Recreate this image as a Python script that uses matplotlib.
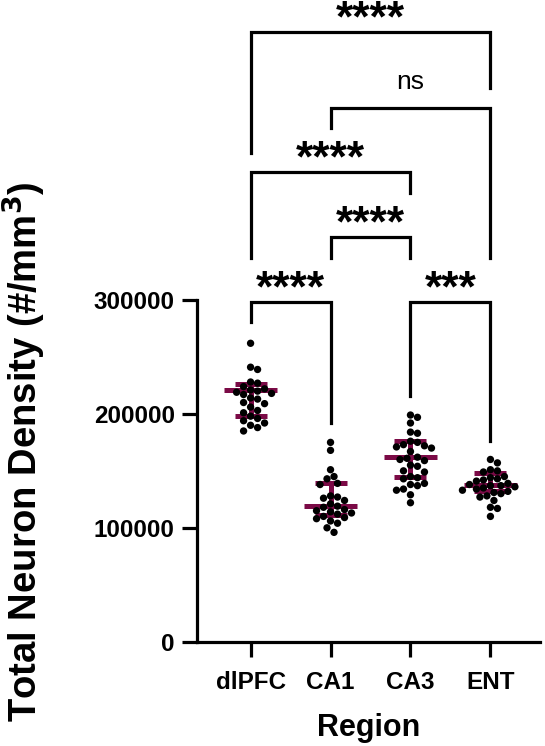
import matplotlib
matplotlib.use("Agg")
import matplotlib.pyplot as plt
import numpy as np

plt.rcParams['font.family'] = ['Liberation Sans', 'DejaVu Sans']

# values (neurons / mm^3)
regions = ['dlPFC', 'CA1', 'CA3', 'ENT']
dlpfc = [262000, 241000, 239000, 228000, 227000, 224000, 222000, 221000, 220000,
         219000, 218000, 217000, 214000, 213000, 210000, 209000, 206000, 203000,
         201000, 198000, 196000, 194000, 192000, 190000, 188000, 185000]
ca1 = [175000, 168000, 151000, 145000, 143000, 139000, 138000, 128000, 127000,
       126000, 124000, 121000, 119000, 118000, 116000, 115000, 114000, 113000,
       112000, 110000, 109000, 108000, 106000, 104000, 100000, 96000]
ca3 = [199000, 197000, 192000, 184000, 183000, 176000, 175000, 173000, 172000,
       171000, 170000, 167000, 162000, 161000, 160000, 159000, 155000, 154000,
       150000, 149000, 145000, 144000, 143000, 139000, 138000, 137000, 134000,
       133000, 129000, 122000]
ent = [160000, 157000, 151000, 150000, 149000, 145000, 144000, 143000, 142000,
       141000, 139000, 138000, 137000, 137000, 136000, 135000, 134000, 133000,
       132000, 131000, 130000, 128000, 127000, 124000, 118000, 117000, 110000]
groups = [dlpfc, ca1, ca3, ent]

# median and interquartile bars as drawn
medians = [221000, 119000, 162000, 138000]
q1 = [198000, 111000, 145000, 132000]
q3 = [226000, 139000, 176000, 148000]

# significance brackets: (group a, group b, label)
comparisons = [(0, 1, '****'), (2, 3, '***'), (1, 2, '****'),
               (0, 2, '****'), (1, 3, 'ns'), (0, 3, '****')]
bracket_top = [298000, 298000, 355000, 412000, 469000, 535000]
leg_a = [281000, 216000, 337000, 337000, 451000, 429000]
leg_b = [192000, 176000, 337000, 394000, 337000, 486000]

W, H = 545, 746
fig = plt.figure(figsize=(W / 100, H / 100), dpi=100)
ax = fig.add_axes([197 / W, (H - 641.7) / H, 343 / W, 341.7 / H])
ax.set_xlim(-0.67, 3.62)
ax.set_ylim(0, 300000)

px_x = 80.0            # pixels per category
px_y = 341.7 / 300000  # pixels per unit
dot = 7.0


def swarm(vals):
    order = np.argsort(vals)[::-1]
    placed = []
    offs = np.zeros(len(vals))
    cands = [0.0]
    for k in range(1, 16):
        cands += [k * dot / 2, -k * dot / 2]
    for i in order:
        y = vals[i] * px_y
        for c in cands:
            if all((c - px) ** 2 + (y - py) ** 2 >= dot ** 2 for px, py in placed):
                break
        placed.append((c, y))
        offs[i] = c / px_x
    return offs


bar_col = '#7b0a46'
for i, vals in enumerate(groups):
    ax.plot([i, i], [q1[i], q3[i]], color=bar_col, lw=3.6, solid_capstyle='butt', zorder=2)
    ax.plot([i - 0.33, i + 0.33], [medians[i]] * 2, color=bar_col, lw=3.6, solid_capstyle='butt', zorder=2)
    ax.plot([i - 0.2, i + 0.2], [q1[i]] * 2, color=bar_col, lw=3.6, solid_capstyle='butt', zorder=2)
    ax.plot([i - 0.2, i + 0.2], [q3[i]] * 2, color=bar_col, lw=3.6, solid_capstyle='butt', zorder=2)
    offs = swarm(np.array(vals, dtype=float))
    ax.scatter(i + offs, vals, s=28, color='black', edgecolors='none', zorder=3, clip_on=False)

# brackets
for (a, b, lab), top, ya, yb in zip(comparisons, bracket_top, leg_a, leg_b):
    ax.plot([a, a, b, b], [ya, top, top, yb], color='black', lw=2.3, clip_on=False,
            solid_joinstyle='miter')
    if lab == 'ns':
        ax.text((a + b) / 2, top + 22000, lab, ha='center', va='center', fontsize=19)
    else:
        ax.text((a + b) / 2, top + 11000, lab, ha='center', va='center', fontsize=32,
                fontweight='bold')

for s in ['top', 'right']:
    ax.spines[s].set_visible(False)
for s in ['left', 'bottom']:
    ax.spines[s].set_linewidth(2.3)

ax.set_yticks([0, 100000, 200000, 300000])
ax.set_yticklabels(['0', '100000', '200000', '300000'])
ax.set_xticks(range(len(regions)))
ax.set_xticklabels(regions)
ax.tick_params(length=11, width=2.3, labelsize=17.5)
ax.tick_params(axis='y', pad=5)
ax.tick_params(axis='x', pad=10)
for t in ax.get_xticklabels() + ax.get_yticklabels():
    t.set_fontweight('bold')

ax.set_xlabel('Region', fontsize=22, fontweight='bold', labelpad=14)
ax.set_ylabel('Total Neuron Density (#/mm$^\\mathbf{3}$)', fontsize=27.5, fontweight='bold')
ax.yaxis.set_label_coords(-0.435, 0.555)

fig.savefig('out.png', dpi=100)
